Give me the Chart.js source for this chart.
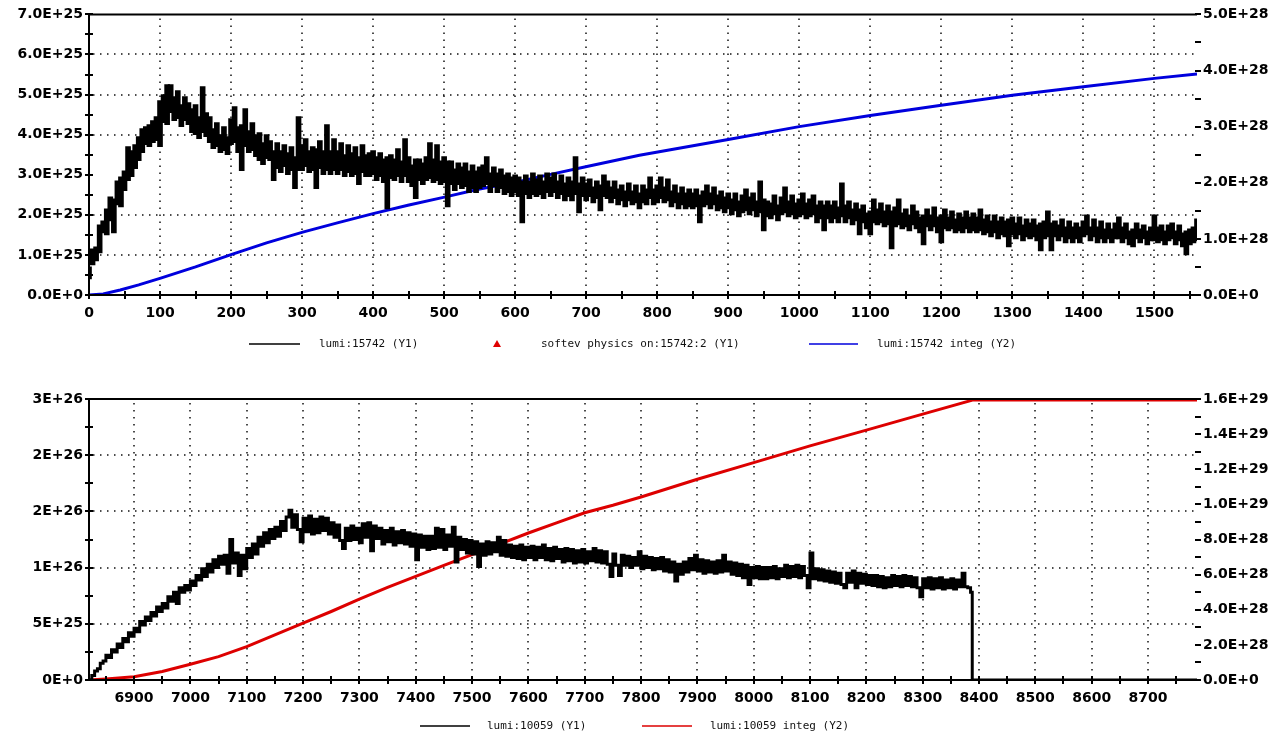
<!DOCTYPE html>
<html><head><meta charset="utf-8">
<script src="https://cdn.jsdelivr.net/npm/chart.js@4.4.1/dist/chart.umd.min.js"></script>
<style>
html,body{margin:0;padding:0;background:#fff;overflow:hidden}
#wrap{position:relative;width:1270px;height:739px;background:#fff}
canvas{position:absolute;left:0}
#c1{top:0}
#c2{top:370px}
</style></head><body>
<div id="wrap"><canvas id="c1" width="1270" height="370"></canvas><canvas id="c2" width="1270" height="369"></canvas></div>
<script>
// ---------------- DATA ----------------
// Top panel: lumi of fill 15742, noise band per 5 s bin from t = 0 (units of 1E+25)
const topTimeStart = 0, topTimeStep = 5;
const topLumiLow = [
0.40,0.75,0.85,1.05,1.55,1.50,1.85,1.55,2.25,2.20,
2.60,2.85,2.95,3.15,3.35,3.55,3.75,3.70,3.80,3.85,
3.70,4.30,4.25,4.55,4.35,4.40,4.20,4.35,4.25,4.05,
4.00,3.90,4.05,3.95,3.80,3.65,3.70,3.55,3.60,3.50,
3.75,3.80,3.55,3.10,3.70,3.55,3.60,3.45,3.35,3.25,
3.40,3.35,2.85,3.15,3.05,3.20,3.00,3.10,2.65,3.10,
3.10,3.20,3.05,3.10,2.65,3.15,3.00,3.10,3.00,3.10,
3.00,3.10,2.95,3.05,2.95,3.00,2.75,3.05,2.95,2.95,
3.00,2.85,2.95,2.80,2.15,2.90,2.85,2.95,2.80,2.95,
2.80,2.70,2.40,2.85,2.75,2.85,2.90,2.80,2.85,2.75,
2.80,2.20,2.75,2.60,2.75,2.65,2.70,2.55,2.65,2.55,
2.65,2.70,2.75,2.55,2.70,2.55,2.65,2.50,2.55,2.45,
2.55,2.45,1.80,2.50,2.40,2.50,2.45,2.50,2.40,2.55,
2.45,2.55,2.40,2.50,2.35,2.45,2.35,2.50,2.05,2.45,
2.35,2.45,2.30,2.40,2.10,2.45,2.40,2.30,2.40,2.25,
2.35,2.20,2.35,2.25,2.30,2.15,2.30,2.25,2.40,2.25,
2.30,2.40,2.30,2.35,2.20,2.30,2.15,2.25,2.15,2.20,
2.15,2.20,1.80,2.20,2.25,2.15,2.25,2.10,2.15,2.05,
2.15,2.00,2.10,1.95,2.05,2.10,2.00,2.10,1.95,2.05,
1.60,1.95,1.90,2.00,1.85,2.00,2.05,1.95,2.00,1.90,
1.95,2.00,1.90,1.95,2.00,1.80,1.90,1.60,1.90,1.80,
1.90,1.80,1.95,1.80,1.90,1.75,1.85,1.50,1.80,1.65,
1.50,1.80,1.75,1.80,1.70,1.75,1.15,1.70,1.75,1.65,
1.70,1.60,1.75,1.65,1.55,1.25,1.70,1.60,1.70,1.55,
1.30,1.65,1.60,1.65,1.55,1.60,1.55,1.65,1.55,1.60,
1.55,1.60,1.50,1.55,1.45,1.55,1.40,1.50,1.45,1.20,
1.50,1.40,1.50,1.35,1.45,1.40,1.45,1.35,1.10,1.40,
1.45,1.10,1.45,1.35,1.45,1.30,1.40,1.30,1.40,1.30,
1.45,1.50,1.35,1.45,1.30,1.40,1.30,1.40,1.30,1.40,
1.40,1.30,1.40,1.25,1.20,1.40,1.30,1.40,1.25,1.35,
1.35,1.30,1.35,1.25,1.35,1.40,1.25,1.35,1.20,1.00,
1.25,1.30,1.35
];
const topLumiHigh = [
0.70,1.15,1.20,1.75,1.85,2.15,2.45,2.40,2.85,2.95,
3.10,3.70,3.60,3.75,3.95,4.15,4.20,4.25,4.35,4.45,
4.85,5.00,5.25,5.25,4.95,5.10,4.75,4.95,4.80,4.65,
4.75,4.45,5.20,4.55,4.45,4.15,4.30,4.00,4.20,3.95,
4.40,4.70,4.20,4.25,4.65,4.10,4.30,4.00,4.05,3.80,
4.00,3.85,3.60,3.80,3.60,3.75,3.55,3.70,3.45,4.45,
3.75,3.90,3.60,3.70,3.65,3.85,3.60,4.25,3.60,3.90,
3.60,3.80,3.50,3.75,3.55,3.70,3.45,3.75,3.50,3.55,
3.60,3.45,3.55,3.40,3.45,3.50,3.40,3.65,3.35,3.90,
3.45,3.25,3.40,3.40,3.30,3.45,3.80,3.40,3.75,3.35,
3.45,3.35,3.35,3.15,3.30,3.20,3.30,3.10,3.25,3.10,
3.20,3.25,3.45,3.05,3.20,3.05,3.15,3.00,3.05,2.95,
3.00,2.95,2.85,3.00,2.85,3.05,2.90,3.00,2.85,3.05,
2.95,3.05,2.85,3.00,2.80,2.95,2.85,3.45,2.80,2.95,
2.80,2.90,2.70,2.85,2.75,3.00,2.85,2.70,2.85,2.65,
2.75,2.60,2.80,2.60,2.75,2.55,2.75,2.65,2.95,2.65,
2.75,2.95,2.70,2.90,2.60,2.75,2.55,2.70,2.55,2.65,
2.55,2.65,2.50,2.60,2.75,2.55,2.70,2.50,2.60,2.45,
2.55,2.40,2.55,2.35,2.50,2.65,2.45,2.55,2.35,2.85,
2.40,2.35,2.30,2.50,2.25,2.45,2.70,2.35,2.50,2.30,
2.40,2.55,2.30,2.40,2.50,2.25,2.35,2.25,2.35,2.25,
2.35,2.20,2.80,2.25,2.35,2.15,2.30,2.15,2.25,2.05,
2.10,2.40,2.15,2.30,2.10,2.25,2.10,2.20,2.40,2.05,
2.15,2.00,2.25,2.10,1.95,2.00,2.15,2.00,2.20,1.95,
2.00,2.15,1.95,2.10,1.90,2.05,1.95,2.10,1.95,2.05,
1.95,2.15,1.90,2.00,1.85,2.00,1.85,1.95,1.85,1.90,
1.95,1.80,1.95,1.75,1.90,1.80,1.90,1.75,1.80,1.85,
2.10,1.80,1.85,1.75,1.90,1.70,1.85,1.70,1.80,1.70,
1.85,2.00,1.70,1.90,1.70,1.85,1.65,1.80,1.65,1.80,
1.95,1.70,1.80,1.60,1.65,1.80,1.65,1.75,1.60,1.70,
2.00,1.70,1.75,1.60,1.75,1.80,1.60,1.75,1.55,1.60,
1.65,1.70,1.90
];
// Top panel: integrated lumi (units of 1E+28)
const topIntegTime = [0,20,44,70,101,150,200,250,301,351,400,449,499,550,601,650,701,775,900,1000,1100,1200,1300,1400,1500,1560];
const topInteg     = [0,0.02,0.09,0.18,0.30,0.50,0.72,0.93,1.12,1.29,1.45,1.60,1.74,1.89,2.01,2.15,2.29,2.49,2.77,3.00,3.20,3.38,3.56,3.71,3.86,3.94];

// Bottom panel: lumi of fill 10059, every 5 s from t = 6820 (units of 1E+26)
const botTimeStart = 6820, botTimeStep = 5;
const botLumi = [
0.00,0.04,0.08,0.10,0.15,0.17,0.22,0.20,0.27,0.25,
0.32,0.29,0.37,0.34,0.42,0.39,0.46,0.43,0.52,0.49,
0.56,0.53,0.60,0.57,0.65,0.61,0.68,0.64,0.74,0.70,
0.78,0.68,0.82,0.78,0.84,0.80,0.88,0.84,0.93,0.89,
0.99,0.92,1.03,0.96,1.07,1.00,1.10,1.03,1.11,0.95,
1.25,1.04,1.13,0.93,1.11,0.99,1.17,1.09,1.21,1.12,
1.27,1.19,1.31,1.22,1.34,1.26,1.36,1.28,1.41,1.33,
1.45,1.51,1.36,1.47,1.34,1.23,1.44,1.32,1.46,1.30,
1.43,1.31,1.45,1.33,1.44,1.30,1.40,1.27,1.38,1.24,
1.17,1.35,1.24,1.37,1.25,1.35,1.22,1.39,1.27,1.40,
1.15,1.37,1.26,1.35,1.21,1.33,1.23,1.35,1.20,1.32,
1.22,1.33,1.21,1.31,1.19,1.30,1.07,1.29,1.18,1.28,
1.16,1.28,1.17,1.35,1.18,1.34,1.16,1.29,1.19,1.36,
1.05,1.27,1.16,1.25,1.13,1.24,1.12,1.23,1.01,1.21,
1.11,1.23,1.12,1.22,1.14,1.27,1.11,1.24,1.10,1.20,
1.09,1.19,1.08,1.20,1.07,1.18,1.09,1.19,1.07,1.18,
1.09,1.20,1.07,1.17,1.06,1.18,1.08,1.16,1.05,1.17,
1.06,1.16,1.04,1.15,1.05,1.16,1.04,1.14,1.06,1.17,
1.05,1.15,1.04,1.14,1.03,0.92,1.12,1.02,0.93,1.11,
1.02,1.10,1.00,1.09,1.02,1.14,0.99,1.10,1.00,1.09,
0.98,1.08,0.99,1.09,0.97,1.07,0.96,1.05,0.88,1.03,
0.94,1.05,0.96,1.08,0.98,1.11,0.97,1.07,0.95,1.06,
0.96,1.05,0.95,1.06,0.96,1.11,0.97,1.05,0.94,1.04,
0.93,1.03,0.91,1.02,0.85,1.00,0.91,1.01,0.90,1.00,
0.90,1.00,0.91,1.01,0.90,0.99,0.92,1.02,0.91,1.01,
0.92,1.02,0.91,1.01,0.93,0.82,1.13,0.90,0.99,0.89,
0.98,0.88,0.97,0.87,0.96,0.86,0.95,0.85,0.82,0.95,
0.87,0.97,0.82,0.95,0.86,0.94,0.85,0.93,0.84,0.93,
0.83,0.92,0.82,0.91,0.83,0.93,0.84,0.92,0.83,0.93,
0.84,0.92,0.83,0.91,0.82,0.74,0.90,0.82,0.91,0.81,
0.90,0.82,0.91,0.81,0.89,0.82,0.90,0.81,0.89,0.83,
0.95,0.83,0.82,0.78
];
const botLumiTailTime = [8388, 8787];
const botLumiTail     = [0, 0];
// Bottom panel: integrated lumi (units of 1E+29)
const botIntegTime = [6820,6850,6900,6950,7000,7050,7100,7150,7200,7250,7300,7350,7400,7450,7500,7550,7600,7650,7700,7750,7800,7900,8000,8100,8200,8300,8390,8787];
const botInteg     = [0,0.006,0.019,0.048,0.090,0.133,0.190,0.257,0.324,0.390,0.460,0.527,0.590,0.653,0.714,0.775,0.837,0.895,0.952,0.995,1.042,1.143,1.238,1.333,1.423,1.514,1.595,1.595];

// Tick labels
const topXTicks  = [0,100,200,300,400,500,600,700,800,900,1000,1100,1200,1300,1400,1500];
const topY1Ticks = [0,1,2,3,4,5,6,7];        // x1E+25
const topY2Ticks = [0,1,2,3,4,5];            // x1E+28
const topYGrid   = [1,2,4,5,6];              // x1E+25
const botXTicks  = [6900,7000,7100,7200,7300,7400,7500,7600,7700,7800,7900,8000,8100,8200,8300,8400,8500,8600,8700];
const botY1Ticks = [0,0.5,1,1.5,2,2.5];      // x1E+26
const botY2Ticks = [0,0.2,0.4,0.6,0.8,1.0,1.2,1.4,1.6]; // x1E+29
const botYGrid   = [0.5,1,1.5,2];            // x1E+26

// ---------------- HELPERS ----------------
const E25 = 1e25, E26 = 1e26, E28 = 1e28, E29 = 1e29;
function sci(v, d) { return Number(v).toExponential(d).replace('e', 'E'); }
function evenPts(t0, dt, vals, unit) { return vals.map((v, i) => ({x: t0 + i * dt, y: v * unit})); }
function bandPts(t0, dt, lo, hi, unit) { return lo.map((v, i) => ({x: t0 + i * dt, y: [v * unit, hi[i] * unit]})); }
function pairPts(ts, vals, unit) { return ts.map((t, i) => ({x: t, y: vals[i] * unit})); }

const tickFont = {family: 'DejaVu Sans', size: 14, weight: 'bold'};
const legendFont = '11px "DejaVu Sans Mono"';

function rangeSteps(min, max, step) {
  const out = [];
  const start = Math.ceil(min / step - 1e-6) * step;
  for (let k = 0; start + k * step <= max + 1e-6 * step; k++) out.push(start + k * step);
  return out;
}

const framePlugin = {
  id: 'panelFrame',
  beforeDatasetsDraw(chart, args, o) {
    const {ctx, chartArea: a, scales} = chart;
    ctx.save();
    ctx.strokeStyle = '#111'; ctx.lineWidth = 1.5; ctx.setLineDash([1.5, 5.5]);
    ctx.beginPath();
    o.xGrid.forEach(v => { const x = Math.round(scales.x.getPixelForValue(v)); ctx.moveTo(x, a.top + 4); ctx.lineTo(x, a.bottom); });
    o.yGrid.forEach(v => { const y = Math.round(scales.y.getPixelForValue(v)); ctx.moveTo(a.left + 4, y); ctx.lineTo(a.right, y); });
    ctx.stroke();
    ctx.restore();
  },
  afterDatasetsDraw(chart, args, o) {
    const {ctx, chartArea: a, scales} = chart;
    ctx.save();
    ctx.strokeStyle = '#000'; ctx.lineWidth = 2; ctx.setLineDash([]);
    ctx.beginPath();
    ctx.moveTo(a.right, a.top); ctx.lineTo(a.left, a.top); ctx.lineTo(a.left, a.bottom); ctx.lineTo(a.right, a.bottom);
    ctx.stroke();
    ctx.beginPath();
    rangeSteps(scales.x.min, scales.x.max, o.xStep).forEach(v => {
      const x = Math.round(scales.x.getPixelForValue(v)); ctx.moveTo(x, a.bottom - 4); ctx.lineTo(x, a.bottom + 4);
    });
    rangeSteps(scales.y.min, scales.y.max, o.y1Step).forEach(v => {
      const y = Math.round(scales.y.getPixelForValue(v)); ctx.moveTo(a.left - 4, y); ctx.lineTo(a.left + 4, y);
    });
    rangeSteps(scales.y2.min, scales.y2.max, o.y2Step).forEach(v => {
      const y = Math.round(scales.y2.getPixelForValue(v)); ctx.moveTo(a.right - 2, y); ctx.lineTo(a.right + 4, y);
    });
    ctx.stroke();
    ctx.restore();
  },
  afterDraw(chart, args, o) {
    const {ctx} = chart;
    ctx.save();
    ctx.font = legendFont; ctx.textBaseline = 'middle'; ctx.fillStyle = '#111';
    o.legend.forEach(item => {
      const ds = chart.data.datasets[item.ds];
      if (item.kind === 'line') {
        ctx.strokeStyle = ds.borderColor; ctx.lineWidth = 1.5;
        ctx.beginPath(); ctx.moveTo(item.x1, item.y); ctx.lineTo(item.x2, item.y); ctx.stroke();
      } else {
        ctx.fillStyle = ds.backgroundColor;
        const cx = item.x1, cy = item.y;
        ctx.beginPath(); ctx.moveTo(cx, cy - 4); ctx.lineTo(cx + 4, cy + 3); ctx.lineTo(cx - 4, cy + 3); ctx.closePath(); ctx.fill();
        ctx.fillStyle = '#111';
      }
      ctx.fillText(ds.label, item.tx, item.y);
    });
    ctx.restore();
  }
};

function axisX(min, max, ticks, height) {
  return {
    type: 'linear', position: 'bottom', min, max, offset: false,
    afterFit: s => { s.height = height; },
    afterBuildTicks: s => { s.ticks = ticks.map(v => ({value: v})); },
    grid: {display: false, drawTicks: false, offset: false}, border: {display: false},
    ticks: {font: tickFont, color: '#000', padding: 10, maxRotation: 0, autoSkip: false, callback: v => String(v)}
  };
}
function axisY(pos, max, ticks, unit, digits, width) {
  return {
    type: 'linear', position: pos, min: 0, max,
    afterFit: s => { s.width = width; },
    afterBuildTicks: s => { s.ticks = ticks.map(v => ({value: v * unit})); },
    grid: {display: false, drawTicks: false}, border: {display: false},
    ticks: {font: tickFont, color: '#000', padding: 6, autoSkip: false, callback: v => sci(v, digits)}
  };
}

const common = {responsive: false, animation: false, devicePixelRatio: 1, events: []};

// ---------------- TOP CHART ----------------
new Chart(document.getElementById('c1'), {
  type: 'line',
  data: {datasets: [
    {type: 'bar', label: 'lumi:15742 (Y1)', data: bandPts(topTimeStart, topTimeStep, topLumiLow, topLumiHigh, E25), borderColor: '#000', backgroundColor: '#000', borderWidth: 0, barThickness: 5, grouped: false, yAxisID: 'y'},
    {label: 'softev physics on:15742:2 (Y1)', data: [], borderColor: '#e00000', backgroundColor: '#e00000', showLine: false, pointStyle: 'triangle', yAxisID: 'y'},
    {label: 'lumi:15742 integ (Y2)', data: pairPts(topIntegTime, topInteg, E28), borderColor: '#0000dd', backgroundColor: '#0000dd', borderWidth: 3, pointRadius: 0, yAxisID: 'y2'}
  ]},
  options: Object.assign({}, common, {
    layout: {padding: {top: 13, left: 0, right: 0, bottom: 0}},
    plugins: {legend: {display: false}, tooltip: {enabled: false},
      panelFrame: {xGrid: topXTicks.slice(1), yGrid: topYGrid.map(v => v * E25), xStep: 50, y1Step: 0.5 * E25, y2Step: 0.5 * E28,
        legend: [
          {ds: 0, kind: 'line', x1: 249, x2: 300, y: 344, tx: 319},
          {ds: 1, kind: 'tri', x1: 497, y: 344, tx: 541},
          {ds: 2, kind: 'line', x1: 809, x2: 858, y: 344, tx: 877}
        ]}},
    scales: {
      x: axisX(0, 1560, topXTicks, 75),
      y: axisY('left', 7 * E25, topY1Ticks, E25, 1, 89),
      y2: axisY('right', 5 * E28, topY2Ticks, E28, 1, 73)
    }
  }),
  plugins: [framePlugin]
});

// ---------------- BOTTOM CHART ----------------
new Chart(document.getElementById('c2'), {
  type: 'line',
  data: {datasets: [
    {label: 'lumi:10059 (Y1)', data: evenPts(botTimeStart, botTimeStep, botLumi, E26).concat(pairPts(botLumiTailTime, botLumiTail, E26)), borderColor: '#000', backgroundColor: '#000', borderWidth: 3, stepped: true, pointRadius: 0, yAxisID: 'y'},
    {label: 'lumi:10059 integ (Y2)', data: pairPts(botIntegTime, botInteg, E29), borderColor: '#dd0000', backgroundColor: '#dd0000', borderWidth: 3, pointRadius: 0, yAxisID: 'y2'}
  ]},
  options: Object.assign({}, common, {
    layout: {padding: {top: 29, left: 0, right: 0, bottom: 0}},
    plugins: {legend: {display: false}, tooltip: {enabled: false},
      panelFrame: {xGrid: botXTicks, yGrid: botYGrid.map(v => v * E26), xStep: 50, y1Step: 0.25 * E26, y2Step: 0.1 * E29,
        legend: [
          {ds: 0, kind: 'line', x1: 420, x2: 470, y: 356, tx: 487},
          {ds: 1, kind: 'line', x1: 642, x2: 692, y: 356, tx: 710}
        ]}},
    scales: {
      x: axisX(6820, 8787, botXTicks, 59),
      y: axisY('left', 2.5 * E26, botY1Ticks, E26, 0, 89),
      y2: axisY('right', 1.6 * E29, botY2Ticks, E29, 1, 73)
    }
  }),
  plugins: [framePlugin]
});
</script>
</body></html>
